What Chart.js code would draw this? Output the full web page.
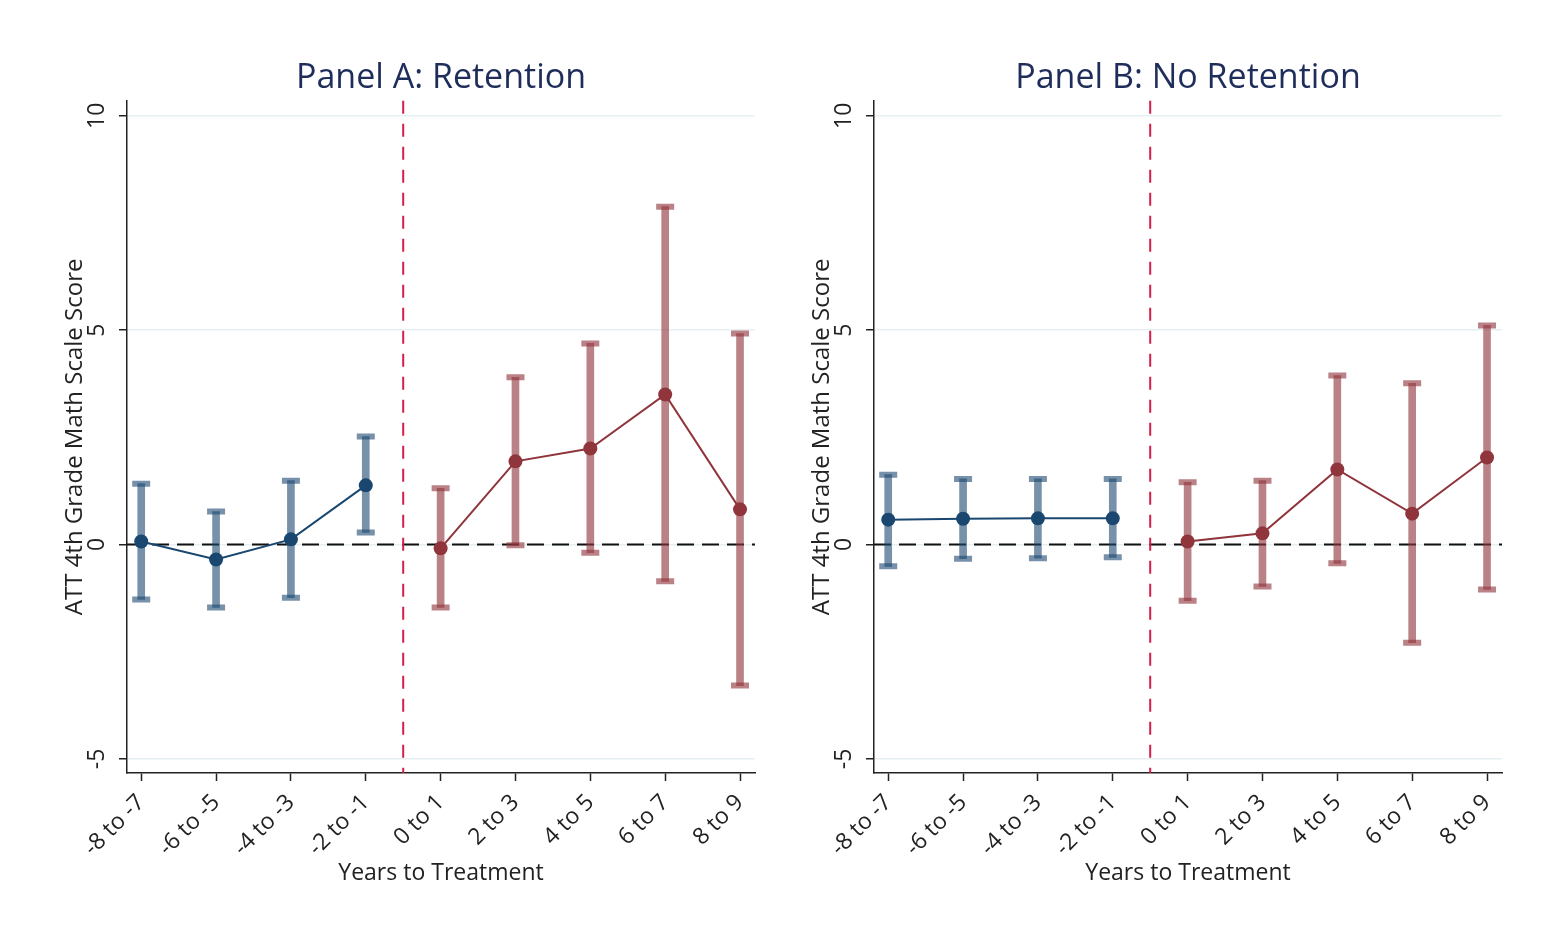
<!DOCTYPE html>
<html>
<head>
<meta charset="utf-8">
<script src="https://cdn.jsdelivr.net/npm/chart.js@4/dist/chart.umd.min.js"></script>
<style>
  body { margin: 0; background: #fff; }
  .panel { position: absolute; top: 0; width: 773px; height: 936px; }
</style>
</head>
<body>
<div class="panel" style="left:0px"><canvas id="chartA"></canvas></div>
<div class="panel" style="left:747px"><canvas id="chartB"></canvas></div>
<script>
// event-time bins
var periods = ['-8 to -7', '-6 to -5', '-4 to -3', '-2 to -1', '0 to 1', '2 to 3', '4 to 5', '6 to 7', '8 to 9'];
var yTicks = [-5, 0, 5, 10];

// Panel A: Retention
var retEst  = [0.07, -0.35, 0.12, 1.38, -0.09, 1.94, 2.24, 3.50, 0.82];
var retLow  = [-1.28, -1.47, -1.24, 0.28, -1.47, -0.02, -0.19, -0.86, -3.29];
var retHigh = [1.42, 0.77, 1.49, 2.52, 1.31, 3.90, 4.69, 7.88, 4.92];

// Panel B: No Retention
var noEst  = [0.58, 0.60, 0.61, 0.61, 0.07, 0.26, 1.75, 0.72, 2.03];
var noLow  = [-0.51, -0.33, -0.32, -0.30, -1.31, -0.98, -0.44, -2.29, -1.05];
var noHigh = [1.63, 1.53, 1.53, 1.53, 1.45, 1.49, 3.94, 3.76, 5.11];

var firstPost = 4;

var navy = '#1a476f', maroon = '#90353b';
var navyCI = 'rgba(26,71,111,0.6)', maroonCI = 'rgba(144,53,59,0.62)';

// dashed zero line + treatment line
var refLines = {
  id: 'refLines',
  beforeDatasetsDraw: function(chart) {
    var ctx = chart.ctx, a = chart.chartArea;
    var x = chart.scales.x, y = chart.scales.y;
    ctx.save();
    ctx.lineWidth = 2;
    ctx.strokeStyle = '#111';
    ctx.setLineDash([17, 8]);
    var y0 = y.getPixelForValue(0);
    ctx.beginPath(); ctx.moveTo(a.left, y0); ctx.lineTo(a.right, y0); ctx.stroke();
    ctx.strokeStyle = '#d41f4a';
    ctx.setLineDash([13, 10]);
    var xv = x.getPixelForValue(firstPost - 0.5);
    ctx.beginPath(); ctx.moveTo(xv, a.top); ctx.lineTo(xv, a.bottom); ctx.stroke();
    ctx.restore();
  }
};

function makeChart(id, title, est, low, high) {
  var pre = [], post = [], bars = [], caps = [], barCol = [], capCol = [];
  for (var i = 0; i < periods.length; i++) {
    if (i < firstPost) pre.push({x: i, y: est[i]}); else post.push({x: i, y: est[i]});
    bars.push({x: i, y: [low[i], high[i]]});
    barCol.push(i < firstPost ? navyCI : maroonCI);
    caps.push({x: i, y: low[i]});
    caps.push({x: i, y: high[i]});
    capCol.push(i < firstPost ? navyCI : maroonCI, i < firstPost ? navyCI : maroonCI);
  }
  return new Chart(document.getElementById(id), {
    data: {
      datasets: [
        { type: 'line', data: pre, borderColor: navy, backgroundColor: navy, borderWidth: 2,
          pointRadius: 7, pointBackgroundColor: navy, pointBorderWidth: 0, order: 0 },
        { type: 'line', data: post, borderColor: maroon, backgroundColor: maroon, borderWidth: 2,
          pointRadius: 7, pointBackgroundColor: maroon, pointBorderWidth: 0, order: 0 },
        { type: 'line', data: caps, showLine: false, pointStyle: 'line', pointRadius: 9,
          pointBorderWidth: 6, pointBorderColor: capCol, order: 1 },
        { type: 'bar', data: bars, backgroundColor: barCol, barThickness: 7, grouped: false, order: 2 }
      ]
    },
    options: {
      responsive: true,
      maintainAspectRatio: false,
      animation: false,
      layout: { padding: { left: 61, right: 18, top: 58, bottom: 49 } },
      plugins: {
        legend: { display: false },
        tooltip: { enabled: false },
        title: {
          display: true, text: title, fullSize: false, color: '#1e2d5a',
          font: { family: 'Open Sans', size: 34, weight: 'normal' },
          padding: { top: 0, bottom: 2 }
        }
      },
      scales: {
        x: {
          type: 'linear', min: -0.19, max: 8.2, offset: false,
          afterBuildTicks: function(s) { s.ticks = periods.map(function(p, i) { return {value: i}; }); },
          afterFit: function(s) { s.height = 114; },
          ticks: {
            autoSkip: false, minRotation: 45, maxRotation: 45, color: '#222', padding: 8,
            font: { family: 'Open Sans', size: 23 },
            callback: function(v) { return periods[v]; }
          },
          grid: { offset: false, drawOnChartArea: false, tickLength: 8, tickColor: '#222', tickWidth: 1.5 },
          border: { color: '#222', width: 1.5 },
          title: { display: true, text: 'Years to Treatment', color: '#222',
                   font: { family: 'Open Sans', size: 23 }, padding: { top: 0, bottom: 0 } }
        },
        y: {
          min: -5.33, max: 10.35,
          afterBuildTicks: function(s) { s.ticks = yTicks.map(function(v) { return {value: v}; }); },
          afterFit: function(s) { s.width = 66; },
          ticks: {
            minRotation: 90, maxRotation: 90, crossAlign: 'center', color: '#222', padding: 8,
            font: { family: 'Open Sans', size: 23 }
          },
          grid: { color: '#e6eff1', lineWidth: 1.5, tickLength: 8, tickColor: '#222', tickWidth: 1.5 },
          border: { color: '#222', width: 1.5 },
          title: { display: true, text: 'ATT 4th Grade Math Scale Score', color: '#222',
                   font: { family: 'Open Sans', size: 24 }, padding: { top: 0, bottom: 0 } }
        }
      }
    },
    plugins: [refLines]
  });
}

makeChart('chartA', 'Panel A: Retention', retEst, retLow, retHigh);
makeChart('chartB', 'Panel B: No Retention', noEst, noLow, noHigh);
</script>
</body>
</html>
